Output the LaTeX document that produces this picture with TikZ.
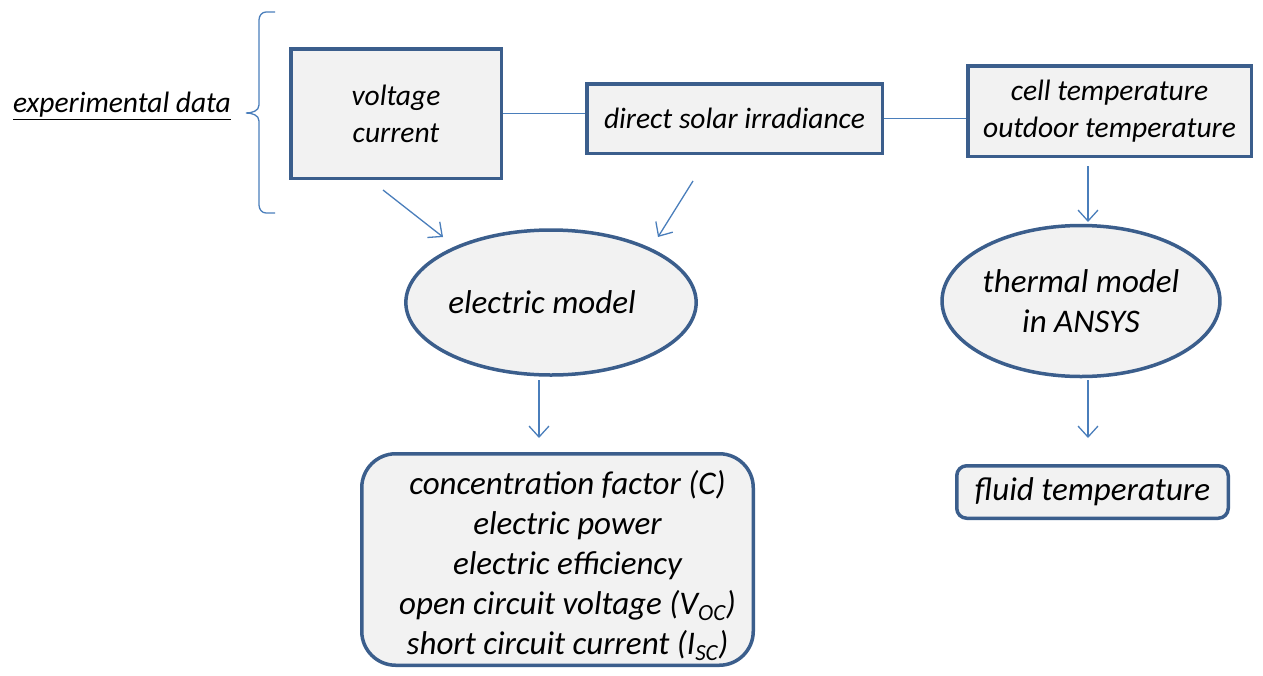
\documentclass[tikz,border=0pt]{standalone}
\usepackage{fontspec}
\setmainfont{Carlito}
\usetikzlibrary{arrows.meta,shapes.geometric}
\definecolor{edgeblue}{HTML}{3B5E8C}
\definecolor{arrowblue}{HTML}{4A7EBB}
\definecolor{boxfill}{HTML}{F2F2F2}
\begin{document}
\begin{tikzpicture}[x=1pt,y=-1pt,
  shapebox/.style={draw=edgeblue,line width=3.5pt,fill=boxfill,inner sep=0pt,align=center,font=\fontsize{29.5}{37}\selectfont\itshape},
  bigtext/.style={font=\fontsize{33}{40}\selectfont\itshape},
  conn/.style={draw=arrowblue,line width=1.3pt},
  arr/.style={conn,-{Straight Barb[length=11pt,width=20pt,line width=1.3pt]}}]
\useasboundingbox (0,0) rectangle (1263,675);
% top boxes
\node[shapebox,minimum width=210.5pt,minimum height=129.5pt] (vc) at (396,113.5) {voltage\\current};
\node[shapebox,minimum width=295.5pt,minimum height=69.5pt] (dsi) at (734.5,118.5) {direct solar irradiance};
\node[shapebox,minimum width=283.5pt,minimum height=90.5pt] (temp) at (1109.5,111) {cell temperature\\outdoor temperature};
% ellipses
\node[shapebox,bigtext,ellipse,minimum width=286pt,minimum height=145pt] (em) at (551,302.5) {electric model\hspace*{18pt}};
\node[shapebox,bigtext,ellipse,minimum width=272pt,minimum height=151pt] (tm) at (1081,301) {thermal model\\in ANSYS};
% bottom boxes
\node[shapebox,bigtext,rounded corners=34pt,minimum width=391.5pt,minimum height=211.5pt] (res) at (557.5,559.5)
  {\hspace*{20pt}\rule{0pt}{36pt}concentration factor (C)\\\hspace*{20pt}electric power\\\hspace*{20pt}electric efficiency\\\hspace*{20pt}open circuit voltage (V\textsubscript{OC})\\\hspace*{20pt}short circuit current (I\textsubscript{SC})};
\node[shapebox,bigtext,rounded corners=10pt,minimum width=271.5pt,minimum height=52.5pt] (fluid) at (1092.5,492) {fluid temperature};
% label
\node[font=\fontsize{29.5}{37}\selectfont\itshape,inner sep=0pt] (exp) at (122,106) {\underline{experimental data}};
% brace
\coordinate (bt) at (275,12);
\coordinate (bb) at (275,213);
\draw[conn] (bt) -- (266,12) to[out=180,in=90] (259,20) -- (259,105) to[out=-90,in=0] (246,113) to[out=0,in=90] (259,121) -- (259,205) to[out=-90,in=180] (266,213) -- (bb);
% connectors
\draw[conn] (vc.east) -- (dsi.west |- vc.east);
\draw[conn] (dsi.east) -- (temp.west |- dsi.east);
\coordinate (a1s) at (383,190); \coordinate (a1e) at (443,237);
\coordinate (a2s) at (693,181); \coordinate (a2e) at (658,237);
\coordinate (a3s) at (1088,166); \coordinate (a3e) at (1088,222);
\coordinate (a4s) at (539,380); \coordinate (a4e) at (539,438);
\coordinate (a5s) at (1088,380); \coordinate (a5e) at (1088,438);
\draw[arr] (a1s) -- (a1e);
\draw[arr] (a2s) -- (a2e);
\draw[arr] (a3s) -- (a3e);
\draw[arr] (a4s) -- (a4e);
\draw[arr] (a5s) -- (a5e);
\end{tikzpicture}
\end{document}
